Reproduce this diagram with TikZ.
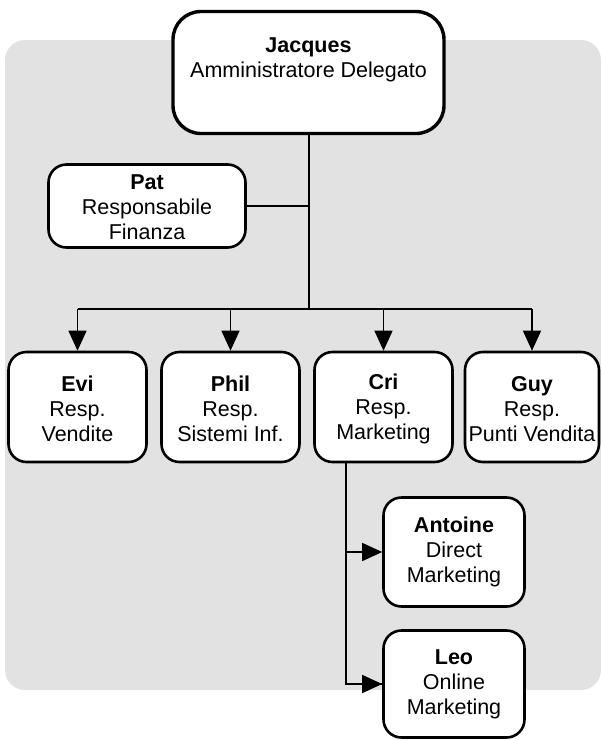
\documentclass[tikz,border=0pt]{standalone}
\usepackage{fontspec}
\setmainfont{Liberation Sans}
\usetikzlibrary{arrows.meta}
\begin{document}
\begin{tikzpicture}[x=1pt,y=-1pt,
  box/.style={draw=black, line width=2.6pt, fill=white, rounded corners=18pt, align=center, inner sep=0pt},
  topbox/.style={box, line width=3.4pt, rounded corners=28pt},
  txt/.style={align=center, font=\fontsize{21.5}{25}\selectfont, inner sep=0pt},
  conn/.style={line width=1.4pt},
  arr/.style={conn, -{Triangle[width=18pt,length=20pt]}}]
\useasboundingbox (0,0) rectangle (601,740);
\fill[fill={rgb,255:red,226;green,226;blue,226}, rounded corners=20pt] (5,40) rectangle (601,690);
% boxes
\node[topbox, minimum width=271pt, minimum height=122pt] (ceo) at (308.5,72.5) {};
\node[txt] (ceot) at (308.5,60) {\textbf{Jacques}\\Amministratore Delegato};
\node[box, minimum width=197pt, minimum height=83pt] (pat) at (147,206) {};
\node[txt] (patt) at (147,207) {\textbf{Pat}\\Responsabile\\Finanza};
\node[box, minimum width=138pt, minimum height=110pt] (evi) at (77.5,407) {};
\node[txt] at (77.5,409) {\textbf{Evi}\\Resp.\\Vendite};
\node[box, minimum width=138pt, minimum height=110pt] (phil) at (230.5,407) {};
\node[txt] at (230.5,409) {\textbf{Phil}\\Resp.\\Sistemi Inf.};
\node[box, minimum width=138pt, minimum height=110pt] (cri) at (383.5,407) {};
\node[txt] at (383.5,409) {\textbf{Cri}\\Resp.\\Marketing};
\node[box, minimum width=134pt, minimum height=110pt] (guy) at (532,407) {};
\node[txt] at (532,409) {\textbf{Guy}\\Resp.\\Punti Vendita};
\node[box, minimum width=141pt, minimum height=109pt] (ant) at (454,552) {};
\node[txt] at (ant) {\textbf{Antoine}\\Direct\\Marketing};
\node[box, minimum width=141pt, minimum height=107pt] (leo) at (454,684) {};
\node[txt] at (leo) {\textbf{Leo}\\Online\\Marketing};
% connectors
\coordinate (bus) at (309,309);
\draw[conn] (ceo.south -| bus) -- (bus);
\draw[conn] (pat.east) -- (pat.east -| bus);
\draw[conn] (evi.north |- bus) -- (guy.north |- bus);
\draw[arr] (evi.north |- bus) -- (evi.north);
\draw[arr] (phil.north |- bus) -- (phil.north);
\draw[arr] (cri.north |- bus) -- (cri.north);
\draw[arr] (guy.north |- bus) -- (guy.north);
\coordinate (tr) at (346,463);
\draw[conn] (cri.south -| tr) -- (tr |- leo.west) -- (leo.west);
\draw[arr] (tr |- ant.west) -- (ant.west);
\draw[arr] (tr |- leo.west) -- (leo.west);
\end{tikzpicture}
\end{document}
